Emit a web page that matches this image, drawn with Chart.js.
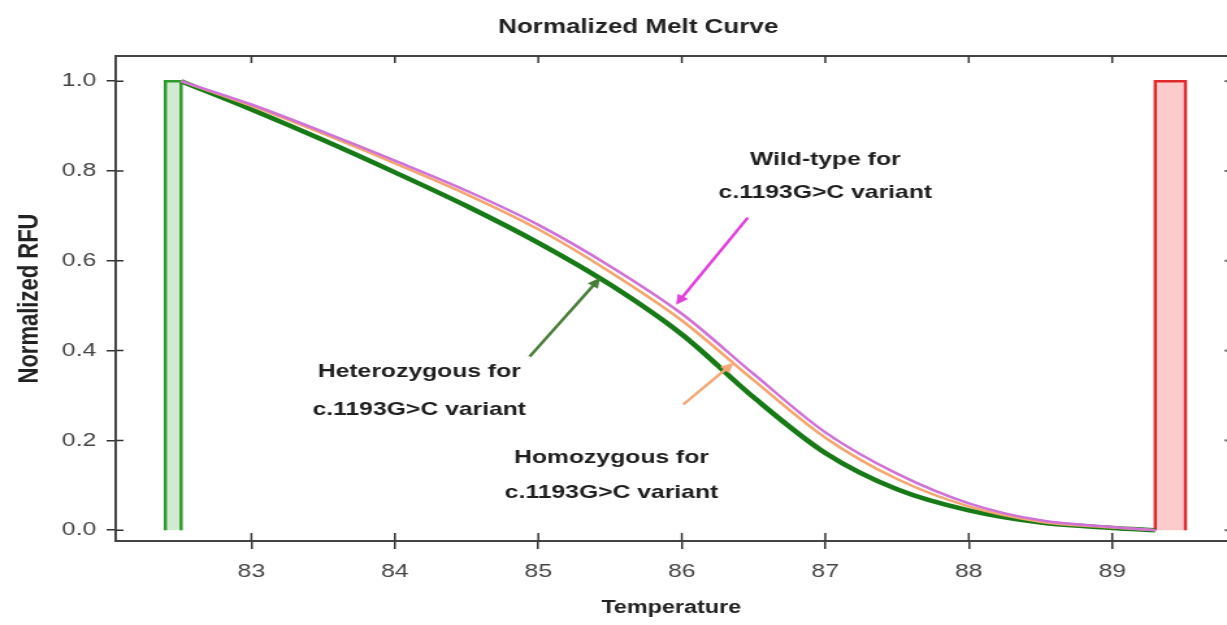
<!DOCTYPE html>
<html>
<head>
<meta charset="utf-8">
<script src="https://cdn.jsdelivr.net/npm/chart.js@4"></script>
<style>
  html, body { margin: 0; padding: 0; background: #fff; overflow: hidden; }
</style>
</head>
<body>
<!-- the source picture is stretched ~1.3x sideways, so draw narrow and stretch -->
<canvas id="c" width="944" height="625" style="display:block;width:1227px;height:625px"></canvas>
<script>
// melt curves
const temps        = [82.51, 83.0, 83.5, 84.0, 84.5, 85.0, 85.5, 86.0, 86.5, 87.0, 87.5, 88.0, 88.5, 89.0, 89.3];
const wildType     = [1.0, 0.948, 0.887, 0.823, 0.756, 0.680, 0.588, 0.482, 0.348, 0.218, 0.126, 0.060, 0.022, 0.007, 0.0];
const homozygous   = [1.0, 0.945, 0.883, 0.817, 0.748, 0.670, 0.575, 0.467, 0.334, 0.206, 0.114, 0.053, 0.019, 0.006, 0.0];
const heterozygous = [1.0, 0.937, 0.869, 0.797, 0.722, 0.640, 0.547, 0.436, 0.296, 0.172, 0.091, 0.044, 0.017, 0.005, 0.0];

// melt region start / end markers
const startBar = [82.40, 82.51];
const endBar   = [89.30, 89.51];
const barTop   = 1.0;

const xTicks = [83, 84, 85, 86, 87, 88, 89];
const yTicks = [0.0, 0.2, 0.4, 0.6, 0.8, 1.0];

const pts  = ys => temps.map((t, i) => ({ x: t, y: ys[i] }));
const rect = ([a, b]) => [{ x: a, y: 0 }, { x: a, y: barTop }, { x: b, y: barTop }, { x: b, y: 0 }];

// annotations: label lines, text pos, arrow tail, arrow head, colour  (data coords)
const notes = [
  { lines: ['Wild-type for', 'c.1193G>C variant'],    at: [87.0, 0.824, 0.751],  from: [86.46, 0.696], to: [85.96, 0.502], color: '#e040dc' },
  { lines: ['Heterozygous for', 'c.1193G>C variant'], at: [84.17, 0.353, 0.269], from: [84.94, 0.387], to: [85.43, 0.562], color: '#4b7d3a' },
  { lines: ['Homozygous for', 'c.1193G>C variant'],   at: [85.51, 0.162, 0.084], from: [86.01, 0.280], to: [86.36, 0.373], color: '#f2a878' },
];

const frame = {
  id: 'frame',
  afterDraw(chart) {
    const { ctx, chartArea: a, scales: { x, y } } = chart;
    ctx.save();
    ctx.strokeStyle = '#444';
    ctx.lineWidth = 2;
    ctx.beginPath();
    ctx.moveTo(a.left, a.top); ctx.lineTo(a.right, a.top);
    ctx.stroke();
    // inner tick marks
    ctx.lineWidth = 1.5;
    ctx.strokeStyle = '#333';
    ctx.beginPath();
    xTicks.forEach(v => {
      const px = x.getPixelForValue(v);
      ctx.moveTo(px, a.bottom); ctx.lineTo(px, a.bottom - 8);
      ctx.moveTo(px, a.top); ctx.lineTo(px, a.top + 7);
    });
    yTicks.forEach(v => {
      const py = y.getPixelForValue(v);
      ctx.moveTo(a.left, py); ctx.lineTo(a.left + 6, py);
    });
    ctx.stroke();
    // right axis stubs, cut off at the edge
    ctx.fillStyle = '#777';
    yTicks.forEach(v => ctx.fillRect(a.right - 2, y.getPixelForValue(v) - 1, 2, 2));

    // title
    ctx.fillStyle = '#222';
    ctx.font = 'bold 20px "Liberation Sans", Arial, sans-serif';
    ctx.textAlign = 'center';
    ctx.textBaseline = 'middle';
    ctx.fillText('Normalized Melt Curve', 491, 27);

    // annotations
    notes.forEach(n => {
      const x1 = x.getPixelForValue(n.from[0]), y1 = y.getPixelForValue(n.from[1]);
      const x2 = x.getPixelForValue(n.to[0]),   y2 = y.getPixelForValue(n.to[1]);
      const ang = Math.atan2(y2 - y1, x2 - x1);
      ctx.strokeStyle = n.color;
      ctx.fillStyle = n.color;
      ctx.lineWidth = 2.5;
      ctx.beginPath();
      ctx.moveTo(x1, y1);
      ctx.lineTo(x2 - 8 * Math.cos(ang), y2 - 8 * Math.sin(ang));
      ctx.stroke();
      ctx.beginPath();
      ctx.moveTo(x2, y2);
      ctx.lineTo(x2 - 11 * Math.cos(ang - 0.45), y2 - 11 * Math.sin(ang - 0.45));
      ctx.lineTo(x2 - 11 * Math.cos(ang + 0.45), y2 - 11 * Math.sin(ang + 0.45));
      ctx.closePath();
      ctx.fill();

      ctx.fillStyle = '#1e1e1e';
      ctx.font = 'bold 19px "Liberation Sans", Arial, sans-serif';
      const tx = x.getPixelForValue(n.at[0]);
      ctx.fillText(n.lines[0], tx, y.getPixelForValue(n.at[1]));
      ctx.fillText(n.lines[1], tx, y.getPixelForValue(n.at[2]));
    });
    ctx.restore();
  }
};

const tickFont = { family: '"Liberation Sans", Arial, sans-serif', size: 19 };
const titleFont = { family: '"Liberation Sans", Arial, sans-serif', size: 18, weight: 'bold' };

new Chart(document.getElementById('c'), {
  type: 'line',
  data: {
    datasets: [
      { label: 'Wild-type',    data: pts(wildType),     borderColor: '#cf72d8', borderWidth: 2.5 },
      { label: 'Homozygous',   data: pts(homozygous),   borderColor: '#f3a66e', borderWidth: 2.5 },
      { label: 'Heterozygous', data: pts(heterozygous), borderColor: '#177a17', borderWidth: 4.5 },
      { label: 'start', data: rect(startBar), borderColor: '#2e9a2e', borderWidth: 2.5,
        backgroundColor: 'rgba(150,210,150,0.45)', fill: 'origin', cubicInterpolationMode: 'default', tension: 0 },
      { label: 'end', data: rect(endBar), borderColor: '#e02a2a', borderWidth: 2.5,
        backgroundColor: 'rgba(250,170,170,0.6)', fill: 'origin', cubicInterpolationMode: 'default', tension: 0 },
    ].map(d => Object.assign({ pointRadius: 0, cubicInterpolationMode: 'monotone' }, d)),
  },
  options: {
    responsive: false,
    animation: false,
    devicePixelRatio: 1,
    layout: { padding: { top: 56, left: 0, right: 0, bottom: 0 } },
    plugins: { legend: { display: false }, tooltip: { enabled: false } },
    scales: {
      x: {
        type: 'linear', min: 82.054, max: 89.80,
        afterFit: s => { s.height = 84; },
        afterBuildTicks: s => { s.ticks = xTicks.map(v => ({ value: v })); },
        ticks: { font: tickFont, color: '#444', padding: 11, maxRotation: 0, callback: v => String(v) },
        grid: { drawOnChartArea: false, tickLength: 8, color: '#333', lineWidth: 1.5 },
        border: { color: '#444', width: 2 },
        title: { display: true, text: 'Temperature', font: titleFont, color: '#222', padding: { top: 0, bottom: 6 } },
      },
      y: {
        min: -0.024, max: 1.056,
        afterFit: s => { s.width = 89; },
        afterBuildTicks: s => { s.ticks = yTicks.map(v => ({ value: v })); },
        ticks: { font: tickFont, color: '#444', padding: 8, callback: v => v.toFixed(1) },
        grid: { drawOnChartArea: false, tickLength: 7, color: '#333', lineWidth: 1.5 },
        border: { color: '#444', width: 2 },
        title: { display: true, text: 'Normalized RFU', font: { ...titleFont, size: 22 }, color: '#222', padding: { top: 10, bottom: 0 } },
      },
    },
  },
  plugins: [frame],
});
</script>
</body>
</html>
